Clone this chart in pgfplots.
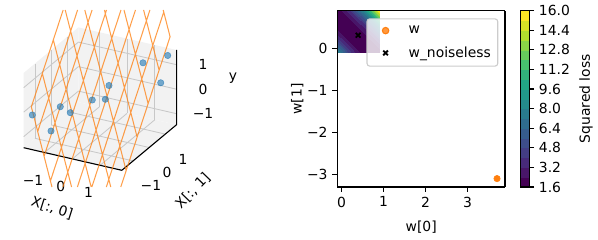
\documentclass[border=0pt]{standalone}
\usepackage{fontspec}
\setmainfont{DejaVu Sans}
\usepackage{pgfplots}
\pgfplotsset{compat=1.18}
\definecolor{tabblue}{RGB}{31,119,180}
\definecolor{taborange}{RGB}{255,127,14}
\definecolor{pane}{RGB}{242,242,242}
\definecolor{gridc}{RGB}{200,200,200}
\definecolor{legc}{RGB}{204,204,204}
\begin{document}
\begin{tikzpicture}
% ---------------- 3D axis ----------------
\begin{axis}[
  set layers,
  at={(71.78pt,100.37pt)}, anchor=origin,
  x={(20.02pt,-4.61pt)}, y={(11.59pt,9.65pt)}, z={(0pt,17.64pt)},
  xmin=-1.75, xmax=1.78, ymin=-1.7, ymax=1.7, zmin=-1.45, zmax=1.6,
  clip=false,
  axis line style={draw=none},
  grid=major, grid style={gridc, line width=0.6pt},
  xtick={-1,0,1}, ytick={-1,0,1}, ztick={-1,0,1},
  xticklabels={−1,0,1}, yticklabels={−1,0,1}, zticklabels={−1,0,1},
  zticklabel pos=right,
  major tick length=0pt,
  xticklabel style={anchor=center, xshift=-8.3pt, yshift=-19.8pt},
  yticklabel style={anchor=center, xshift=12.8pt, yshift=-17.9pt},
  zticklabel style={anchor=center, xshift=19.1pt, yshift=0pt},
  xlabel={X[:, 0]}, ylabel={X[:, 1]}, zlabel={y},
  every axis x label/.style={at={(axis cs:0,-1.7,-1.45)}, anchor=center, xshift=-14.6pt, yshift=-35.4pt, rotate=-17.6},
  every axis y label/.style={at={(axis cs:1.78,0,-1.45)}, anchor=center, xshift=31.5pt, yshift=-31.3pt, rotate=46},
  every axis z label/.style={at={(axis cs:1.78,1.7,0)}, anchor=center, xshift=40.6pt, yshift=8.1pt},
  every tick label/.append style={font=\fontsize{10}{12}\selectfont},
  label style={font=\fontsize{10}{12}\selectfont},
]
\addplot3[on layer=axis background, fill=pane, draw=none] coordinates {(-1.75,-1.7,-1.45) (-1.75,1.7,-1.45) (-1.75,1.7,1.6) (-1.75,-1.7,1.6)};
\addplot3[on layer=axis background, fill=pane, draw=none] coordinates {(-1.75,1.7,-1.45) (1.78,1.7,-1.45) (1.78,1.7,1.6) (-1.75,1.7,1.6)};
\addplot3[on layer=axis background, fill=pane, draw=none] coordinates {(-1.75,-1.7,-1.45) (1.78,-1.7,-1.45) (1.78,1.7,-1.45) (-1.75,1.7,-1.45)};
\addplot3[black, line width=0.8pt] coordinates {(-1.75,-1.7,-1.45) (1.78,-1.7,-1.45) (1.78,1.7,-1.45) (1.78,1.7,1.6)};
% wireframe of the fitted plane
\addplot3[taborange, line width=0.75pt, opacity=0.75, empty line=jump] table {
x y z
-1.41 -1.81 0.366
-1.41 -0.529 -3.605

-1.015 -1.81 1.835
-1.015 0.006 -3.795

-0.62 -1.81 3.305
-0.62 0.541 -3.983

-0.225 -1.753 4.597
-0.225 1.076 -4.173

0.17 -1.218 4.408
0.17 1.35 -3.553

0.565 -0.683 4.219
0.565 1.35 -2.083

0.96 -0.148 4.030
0.96 1.35 -0.614

1.355 0.387 3.841
1.355 1.35 0.856

1.75 0.922 3.652
1.75 1.35 2.325

-1.41 -1.81 0.366
-0.267 -1.81 4.618

-1.41 -1.415 -0.858
0.025 -1.415 4.480

-1.41 -1.02 -2.083
0.316 -1.02 4.338

-1.41 -0.625 -3.307
0.608 -0.625 4.200

-1.189 -0.23 -3.710
0.899 -0.23 4.057

-0.898 0.165 -3.853
1.191 0.165 3.919

-0.606 0.56 -3.990
1.483 0.56 3.781

-0.315 0.955 -4.133
1.75 0.955 3.549

-0.023 1.35 -4.271
1.75 1.35 2.325
};
\addplot3[only marks, mark=*, color=tabblue, opacity=0.6, mark size=2.3pt] coordinates {
(-1.535,-1.535,-0.149) (-1.109,-1.109,-0.924) (-0.897,-0.897,0.007) (-0.670,-0.670,-0.302)
(-0.169,-0.169,0.073) (0.128,0.128,0.017) (0.212,0.212,0.556) (0.986,0.986,1.261)
(1.390,1.390,0.329) (1.549,1.549,1.398)};
\end{axis}
% ---------------- heatmap axis ----------------
\begin{axis}[
  at={(242.86pt,38.16pt)}, anchor=south west,
  scale only axis, width=120.74pt, height=126.94pt,
  view={0}{90},
  xmin=-0.1, xmax=3.89, ymin=-3.30, ymax=0.9,
  xtick={0,1,2,3}, ytick={-3,-2,-1,0},
  xticklabels={0,1,2,3}, yticklabels={−3,−2,−1,0},
  tick align=outside, xtick pos=lower, ytick pos=left,
  major tick length=3.5pt, tick style={black, line width=0.8pt},
  axis line style={line width=0.8pt},
  every tick label/.append style={font=\fontsize{10}{12}\selectfont},
  label style={font=\fontsize{10}{12}\selectfont},
  xlabel={w[0]}, ylabel={w[1]},
  xlabel shift=2.7pt, ylabel shift=-4.3pt,
  colormap={cf}{rgb255(0cm)=(68,1,84) rgb255(1cm)=(72,22,104) rgb255(2cm)=(71,42,122)
    rgb255(3cm)=(67,61,132) rgb255(4cm)=(61,77,138) rgb255(5cm)=(54,93,141)
    rgb255(6cm)=(47,108,142) rgb255(7cm)=(41,123,142) rgb255(8cm)=(36,138,141)
    rgb255(9cm)=(33,152,138) rgb255(10cm)=(34,165,133) rgb255(11cm)=(50,179,123)
    rgb255(12cm)=(71,192,110) rgb255(13cm)=(103,203,92) rgb255(14cm)=(138,212,71)
    rgb255(15cm)=(177,221,46) rgb255(16cm)=(215,226,38) rgb255(17cm)=(253,231,37)
    rgb255(18cm)=(253,231,37)},
  colormap access=piecewise constant,
  point meta min=1.6, point meta max=16.0,
  colorbar,
  colorbar style={
    at={(parent axis.north east)}, anchor=north west, xshift=2.4pt,
    width=6.48pt,
    ytick={1.6,3.2,4.8,6.4,8.0,9.6,11.2,12.8,14.4,16.0},
    yticklabels={1.6,3.2,4.8,6.4,8.0,9.6,11.2,12.8,14.4,16.0},
    ylabel={Squared loss},
    tick align=outside, major tick length=3.5pt,
    yticklabel pos=right, ytick pos=right,
    tick style={black, line width=0.8pt},
    axis line style={line width=0.8pt},
    every tick label/.append style={font=\fontsize{10}{12}\selectfont},
    label style={font=\fontsize{10}{12}\selectfont},
  },
  legend style={at={(0.960,0.957)}, anchor=north east, draw=legc, fill=white,
    fill opacity=0.8, text opacity=1, draw opacity=1, rounded corners=2pt,
    font=\fontsize{10}{12}\selectfont, row sep=4pt, inner ysep=3pt, line width=0.8pt},
  legend cell align=left,
  legend image code/.code={\path (0cm,0cm) (0.85cm,0cm); \draw[#1] plot coordinates {(0.35cm,0cm)};},
]
\addplot3[surf, shader=interp, mesh/rows=11, point meta=\thisrow{z}, forget plot] table {
x y z
-0.1 -0.1 8.59
0.0 -0.1 6.99
0.1 -0.1 5.60
0.2 -0.1 4.41
0.3 -0.1 3.43
0.4 -0.1 2.67
0.5 -0.1 2.10
0.6 -0.1 1.75
0.7 -0.1 1.60
0.8 -0.1 1.67
0.9 -0.1 1.94
-0.1 0.0 6.99
0.0 0.0 5.60
0.1 0.0 4.41
0.2 0.0 3.43
0.3 0.0 2.67
0.4 0.0 2.10
0.5 0.0 1.75
0.6 0.0 1.60
0.7 0.0 1.67
0.8 0.0 1.94
0.9 0.0 2.42
-0.1 0.1 5.60
0.0 0.1 4.41
0.1 0.1 3.43
0.2 0.1 2.67
0.3 0.1 2.10
0.4 0.1 1.75
0.5 0.1 1.60
0.6 0.1 1.67
0.7 0.1 1.94
0.8 0.1 2.42
0.9 0.1 3.10
-0.1 0.2 4.41
0.0 0.2 3.43
0.1 0.2 2.67
0.2 0.2 2.10
0.3 0.2 1.75
0.4 0.2 1.60
0.5 0.2 1.67
0.6 0.2 1.94
0.7 0.2 2.42
0.8 0.2 3.10
0.9 0.2 4.00
-0.1 0.3 3.43
0.0 0.3 2.67
0.1 0.3 2.10
0.2 0.3 1.75
0.3 0.3 1.60
0.4 0.3 1.67
0.5 0.3 1.94
0.6 0.3 2.42
0.7 0.3 3.10
0.8 0.3 4.00
0.9 0.3 5.10
-0.1 0.4 2.67
0.0 0.4 2.10
0.1 0.4 1.75
0.2 0.4 1.60
0.3 0.4 1.67
0.4 0.4 1.94
0.5 0.4 2.42
0.6 0.4 3.10
0.7 0.4 4.00
0.8 0.4 5.10
0.9 0.4 6.41
-0.1 0.5 2.10
0.0 0.5 1.75
0.1 0.5 1.60
0.2 0.5 1.67
0.3 0.5 1.94
0.4 0.5 2.42
0.5 0.5 3.10
0.6 0.5 4.00
0.7 0.5 5.10
0.8 0.5 6.41
0.9 0.5 7.93
-0.1 0.6 1.75
0.0 0.6 1.60
0.1 0.6 1.67
0.2 0.6 1.94
0.3 0.6 2.42
0.4 0.6 3.10
0.5 0.6 4.00
0.6 0.6 5.10
0.7 0.6 6.41
0.8 0.6 7.93
0.9 0.6 9.65
-0.1 0.7 1.60
0.0 0.7 1.67
0.1 0.7 1.94
0.2 0.7 2.42
0.3 0.7 3.10
0.4 0.7 4.00
0.5 0.7 5.10
0.6 0.7 6.41
0.7 0.7 7.93
0.8 0.7 9.65
0.9 0.7 11.59
-0.1 0.8 1.67
0.0 0.8 1.94
0.1 0.8 2.42
0.2 0.8 3.10
0.3 0.8 4.00
0.4 0.8 5.10
0.5 0.8 6.41
0.6 0.8 7.93
0.7 0.8 9.65
0.8 0.8 11.59
0.9 0.8 13.73
-0.1 0.9 1.94
0.0 0.9 2.42
0.1 0.9 3.10
0.2 0.9 4.00
0.3 0.9 5.10
0.4 0.9 6.41
0.5 0.9 7.93
0.6 0.9 9.65
0.7 0.9 11.59
0.8 0.9 13.73
0.9 0.9 16.00
};
\addplot3[only marks, mark=*, color=taborange, mark size=2.3pt] coordinates {(3.70,-3.10,0)};
\addlegendentry{w}
\addplot3[only marks, mark=x, color=black, mark size=2.4pt, mark options={line width=1.3pt}] coordinates {(0.395,0.317,0)};
\addlegendentry{w\_noiseless}
\end{axis}
\pgfresetboundingbox
\path[use as bounding box] (0,0) rectangle (430.56pt,172.8pt);
\end{tikzpicture}
\end{document}
